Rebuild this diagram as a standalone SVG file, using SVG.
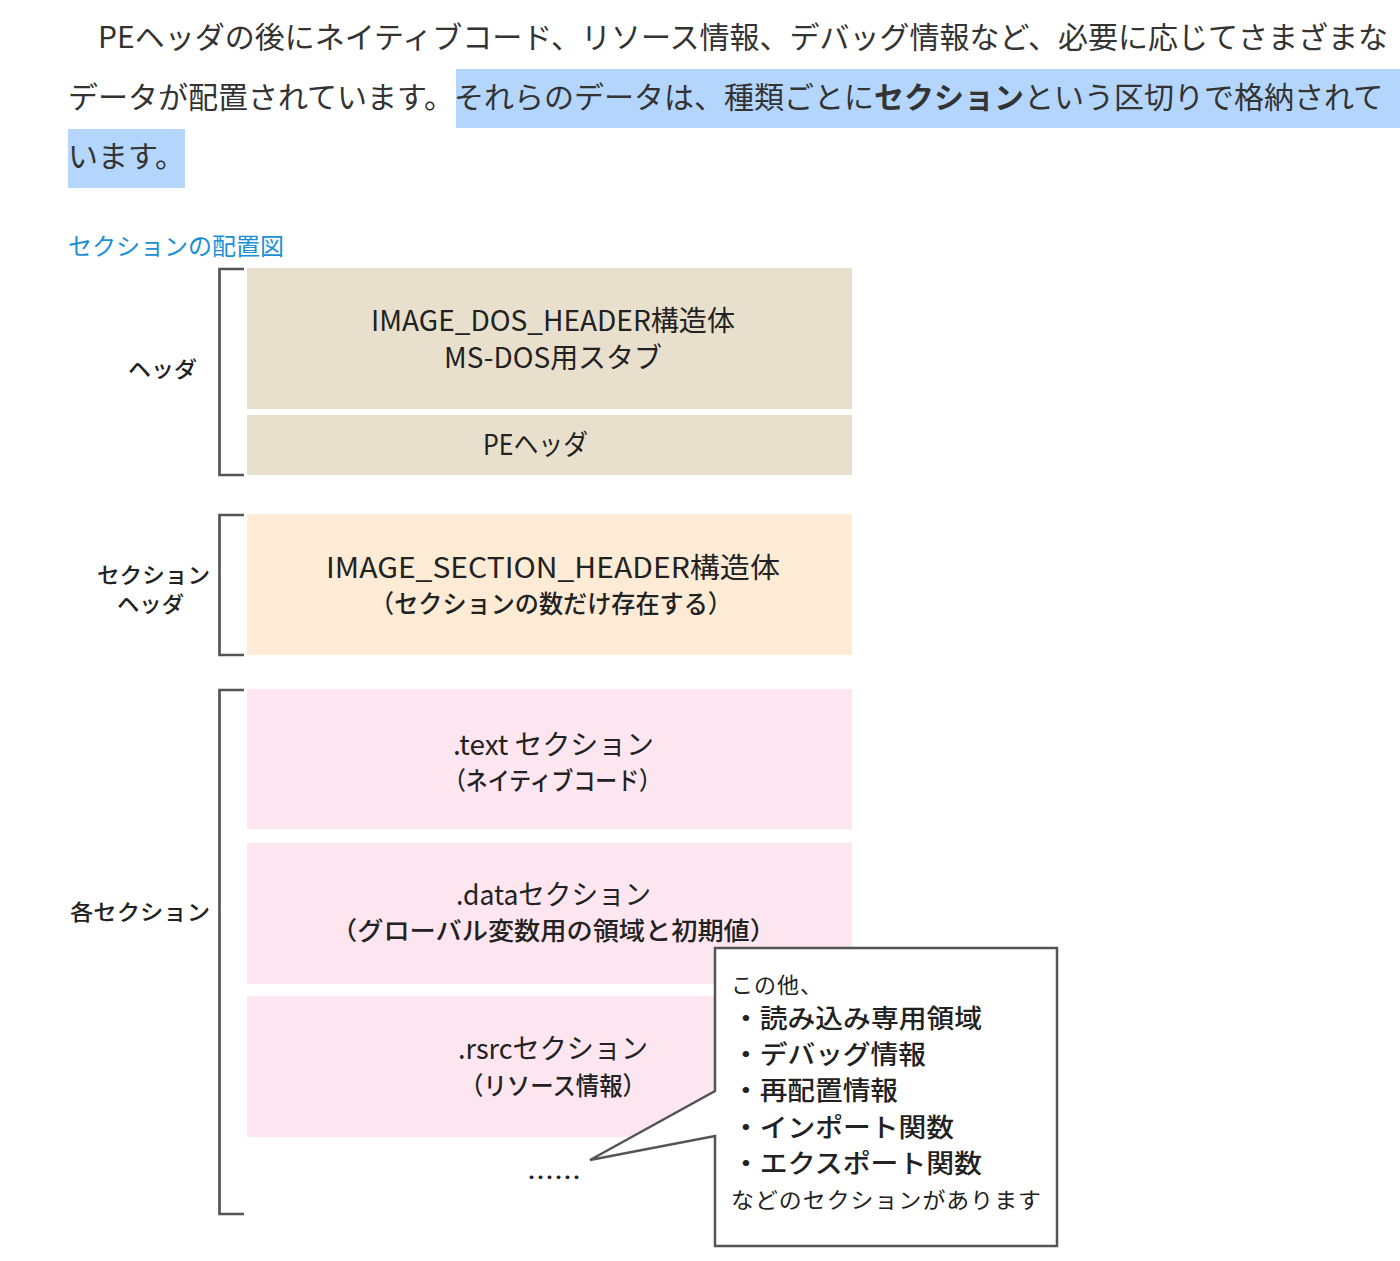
<svg xmlns="http://www.w3.org/2000/svg" width="1400" height="1261" viewBox="0 0 1400 1261">
<style>
.p{font-family:"Noto Sans CJK JP","Noto Sans",sans-serif;font-size:30px;fill:#333}
.cap{font-family:"Noto Sans CJK JP","Noto Sans",sans-serif;font-size:24px;fill:#1b8fd6}
.t1{font-family:"Noto Sans CJK JP","Noto Sans",sans-serif;font-size:28px;fill:#222}
.t2{font-family:"Noto Sans CJK JP","Noto Sans",sans-serif;font-size:25px;fill:#222;font-weight:500}
.lb{font-family:"Noto Sans CJK JP","Noto Sans",sans-serif;font-size:22px;fill:#222;font-weight:500}
.cs{font-family:"Noto Sans CJK JP","Noto Sans",sans-serif;font-size:22px;fill:#222;letter-spacing:1px}
.cb{font-family:"Noto Sans CJK JP","Noto Sans",sans-serif;font-size:26px;fill:#222;font-weight:500}
.br{fill:none;stroke:#555;stroke-width:2.7}
.tan{fill:#e8e0cc}
.org{fill:#feebd6}
.pnk{fill:#fde6ef}
</style>
<rect width="1400" height="1261" fill="#fff"/>
<g id="paragraph">
<rect x="456" y="69" width="944" height="59" fill="#b4d6fd"/>
<rect x="68" y="129" width="117" height="59" fill="#b4d6fd"/>
<text class="p" x="98" y="48">PEヘッダの後にネイティブコード、リソース情報、デバッグ情報など、必要に応じてさまざまな</text>
<text class="p" x="68" y="108">データが配置されています。それらのデータは、種類ごとに<tspan font-weight="bold">セクション</tspan>という区切りで格納されて</text>
<text class="p" x="68" y="167">います。</text>
</g>
<text id="caption" class="cap" x="68" y="255">セクションの配置図</text>
<g id="brackets">
<path class="br" d="M244,269 H219.5 V475 H244"/>
<path class="br" d="M244,515 H219.5 V655 H244"/>
<path class="br" d="M244,690 H219.5 V1214 H244"/>
</g>
<g id="labels">
<text class="lb" x="128" y="377" textLength="69" lengthAdjust="spacingAndGlyphs">ヘッダ</text>
<text class="lb" x="97" y="583" textLength="113" lengthAdjust="spacingAndGlyphs">セクション</text>
<text class="lb" x="117" y="612" textLength="67" lengthAdjust="spacingAndGlyphs">ヘッダ</text>
<text class="lb" x="70" y="920" textLength="140" lengthAdjust="spacingAndGlyphs">各セクション</text>
</g>
<g id="dos-header">
<rect class="tan" x="247" y="268" width="605" height="141"/>
<text class="t1" x="371" y="331" textLength="364" lengthAdjust="spacingAndGlyphs">IMAGE_DOS_HEADER構造体</text>
<text class="t1" x="444" y="368" font-size="26" textLength="218" lengthAdjust="spacingAndGlyphs">MS-DOS用スタブ</text>
</g>
<g id="pe-header">
<rect class="tan" x="247" y="415" width="605" height="60"/>
<text class="t1" x="483" y="455" textLength="105" lengthAdjust="spacingAndGlyphs">PEヘッダ</text>
</g>
<g id="section-header">
<rect class="org" x="247" y="514" width="605" height="141"/>
<text class="t1" x="326" y="578" textLength="454" lengthAdjust="spacingAndGlyphs">IMAGE_SECTION_HEADER構造体</text>
<text class="t2" x="370" y="613" textLength="362" lengthAdjust="spacingAndGlyphs">（セクションの数だけ存在する）</text>
</g>
<g id="text-section">
<rect class="pnk" x="247" y="689" width="605" height="140"/>
<text class="t1" x="453" y="755" textLength="201" lengthAdjust="spacingAndGlyphs">.text セクション</text>
<text class="t2" x="444" y="790" textLength="217" lengthAdjust="spacingAndGlyphs">（ネイティブコード）</text>
</g>
<g id="data-section">
<rect class="pnk" x="247" y="843" width="605" height="141"/>
<text class="t1" x="456" y="905" textLength="195" lengthAdjust="spacingAndGlyphs">.dataセクション</text>
<text class="t2" x="331" y="940" textLength="445" lengthAdjust="spacingAndGlyphs">（グローバル変数用の領域と初期値）</text>
</g>
<g id="rsrc-section">
<rect class="pnk" x="247" y="996" width="605" height="141"/>
<text class="t1" x="458" y="1059" textLength="190" lengthAdjust="spacingAndGlyphs">.rsrcセクション</text>
<text class="t2" x="460" y="1095" textLength="186" lengthAdjust="spacingAndGlyphs">（リソース情報）</text>
</g>
<text id="ellipsis" class="t2" x="527" y="1187" textLength="54" lengthAdjust="spacingAndGlyphs">……</text>
<g id="connectors">
<path d="M715,948 H1057 V1246 H715 V1136 L590,1160 L715,1091 Z" fill="#fff" stroke="#555" stroke-width="2.5"/>
</g>
<g id="callout">
<text class="cs" x="731" y="993">この他、</text>
<text class="cb" x="732" y="1028" textLength="250" lengthAdjust="spacingAndGlyphs">・読み込み専用領域</text>
<text class="cb" x="732" y="1064" textLength="194" lengthAdjust="spacingAndGlyphs">・デバッグ情報</text>
<text class="cb" x="732" y="1100" textLength="166" lengthAdjust="spacingAndGlyphs">・再配置情報</text>
<text class="cb" x="732" y="1137" textLength="222" lengthAdjust="spacingAndGlyphs">・インポート関数</text>
<text class="cb" x="732" y="1173" textLength="250" lengthAdjust="spacingAndGlyphs">・エクスポート関数</text>
<text class="cs" x="731" y="1208" textLength="311" lengthAdjust="spacingAndGlyphs">などのセクションがあります</text>
</g>
</svg>
